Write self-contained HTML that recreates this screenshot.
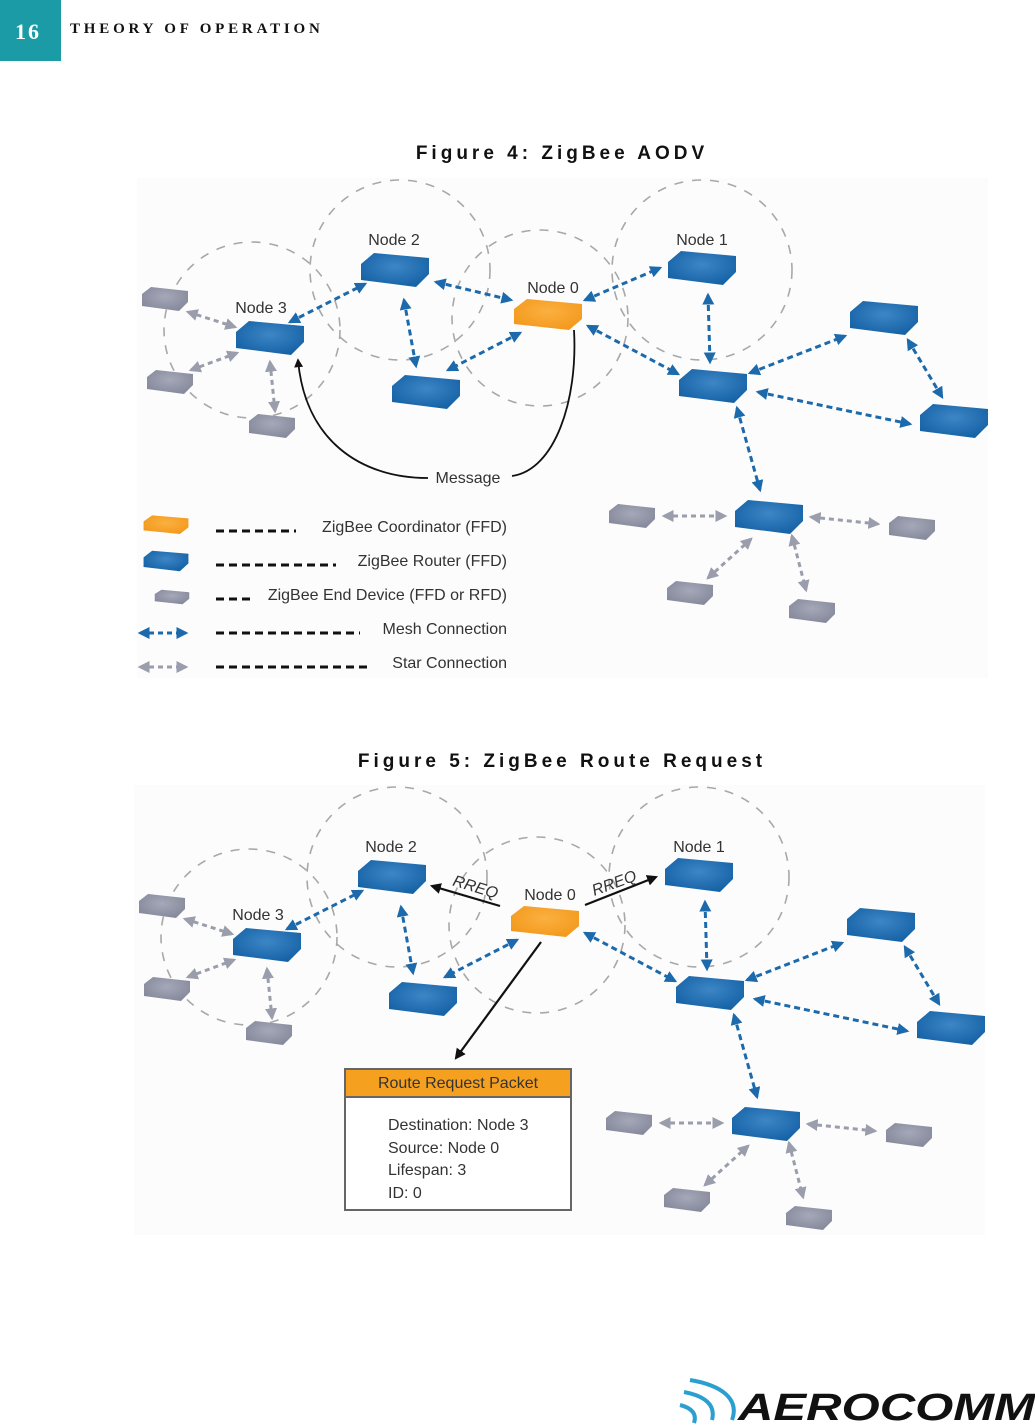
<!DOCTYPE html>
<html><head><meta charset="utf-8"><style>
html,body{margin:0;padding:0;background:#fff;}
svg{display:block;}
</style></head><body>
<svg width="1035" height="1425" viewBox="0 0 1035 1425" xmlns="http://www.w3.org/2000/svg" font-family="Liberation Sans, sans-serif">
<defs>
<radialGradient id="gb" cx="50%" cy="40%" r="60%"><stop offset="0" stop-color="#3d86c6"/><stop offset="1" stop-color="#1663a6"/></radialGradient>
<radialGradient id="go" cx="50%" cy="40%" r="60%"><stop offset="0" stop-color="#fbb040"/><stop offset="1" stop-color="#f39a1e"/></radialGradient>
<radialGradient id="gg" cx="50%" cy="40%" r="60%"><stop offset="0" stop-color="#a4a8b8"/><stop offset="1" stop-color="#868a9c"/></radialGradient>
<polygon id="nb" points="-34,-6 -21,-17 34,-12 34,4 21,17 -34,10" fill="url(#gb)"/>
<polygon id="no" points="-34,-6 -21,-16 34,-11 34,4 21,15 -34,9" fill="url(#go)"/>
<polygon id="ng" points="-23,-5 -14,-12 23,-8 23,3 14,12 -23,7" fill="url(#gg)"/>
<marker id="mb" viewBox="0 0 10 10" refX="8" refY="5" markerWidth="4" markerHeight="4" orient="auto-start-reverse"><path d="M0,0 L10,5 L0,10 z" fill="#1c6aab"/></marker>
<marker id="mg" viewBox="0 0 10 10" refX="8" refY="5" markerWidth="4" markerHeight="4" orient="auto-start-reverse"><path d="M0,0 L10,5 L0,10 z" fill="#9a9dab"/></marker>
<marker id="mk" viewBox="0 0 10 10" refX="8" refY="5" markerWidth="5" markerHeight="5" orient="auto"><path d="M0,0 L10,5 L0,10 z" fill="#111"/></marker>
<g id="fig">
  <g fill="none" stroke="#a8a8a8" stroke-width="1.6" stroke-dasharray="9,9">
    <circle cx="252" cy="330" r="88"/>
    <circle cx="400" cy="270" r="90"/>
    <circle cx="540" cy="318" r="88"/>
    <circle cx="702" cy="270" r="90"/>
  </g>
  <g stroke="#1c6aab" stroke-width="3" stroke-dasharray="6,4" marker-start="url(#mb)" marker-end="url(#mb)">
    <line x1="290" y1="322" x2="365" y2="284"/>
    <line x1="404" y1="300" x2="416" y2="366"/>
    <line x1="520" y1="333" x2="448" y2="370"/>
    <line x1="588" y1="326" x2="678" y2="374"/>
    <line x1="708" y1="295" x2="710" y2="362"/>
    <line x1="750" y1="373" x2="845" y2="336"/>
    <line x1="908" y1="340" x2="942" y2="397"/>
    <line x1="758" y1="392" x2="910" y2="424"/>
    <line x1="737" y1="408" x2="760" y2="490"/>
  </g>
  <g stroke="#9a9dab" stroke-width="3" stroke-dasharray="5,4" marker-start="url(#mg)" marker-end="url(#mg)">
    <line x1="188" y1="312" x2="235" y2="327"/>
    <line x1="191" y1="370" x2="237" y2="353"/>
    <line x1="270" y1="362" x2="275" y2="411"/>
    <line x1="664" y1="516" x2="725" y2="516"/>
    <line x1="708" y1="578" x2="751" y2="539"/>
    <line x1="792" y1="536" x2="806" y2="590"/>
    <line x1="811" y1="517" x2="878" y2="524"/>
  </g>
  <use href="#nb" x="395" y="270"/>
  <use href="#nb" x="702" y="268"/>
  <use href="#nb" x="270" y="338"/>
  <use href="#nb" x="426" y="392"/>
  <use href="#nb" x="713" y="386"/>
  <use href="#nb" x="884" y="318"/>
  <use href="#nb" x="954" y="421"/>
  <use href="#nb" x="769" y="517"/>
  <use href="#no" x="548" y="315"/>
  <use href="#ng" x="165" y="299"/>
  <use href="#ng" x="170" y="382"/>
  <use href="#ng" x="272" y="426"/>
  <use href="#ng" x="632" y="516"/>
  <use href="#ng" x="690" y="593"/>
  <use href="#ng" x="812" y="611"/>
  <use href="#ng" x="912" y="528"/>
</g>
</defs>

<!-- header -->
<rect x="0" y="0" width="61" height="61" fill="#1a9ba6"/>
<text x="28" y="39" text-anchor="middle" font-family="Liberation Serif, serif" font-weight="bold" font-size="22" fill="#fff" letter-spacing="2">16</text>
<text x="70" y="33" font-family="Liberation Serif, serif" font-weight="bold" font-size="15" fill="#111" letter-spacing="3.8">THEORY OF OPERATION</text>

<text x="562" y="159" text-anchor="middle" font-weight="bold" font-size="19" letter-spacing="4" fill="#111">Figure 4: ZigBee AODV</text>
<text x="562" y="767" text-anchor="middle" font-weight="bold" font-size="19" letter-spacing="4" fill="#111">Figure 5: ZigBee Route Request</text>

<!-- Figure 4 -->
<rect x="137" y="178" width="851" height="500" fill="#fcfcfc"/>
<use href="#fig"/>
<g stroke="#1c6aab" stroke-width="3" stroke-dasharray="6,4" marker-start="url(#mb)" marker-end="url(#mb)">
  <line x1="436" y1="282" x2="511" y2="300"/>
  <line x1="585" y1="300" x2="660" y2="268"/>
</g>
<g fill="none" stroke="#111" stroke-width="1.8">
  <path d="M428,478 C360,478 305,440 298,360" marker-end="url(#mk)"/>
  <path d="M512,476 C555,470 578,400 574,330"/>
</g>
<g font-size="16" fill="#333">
  <text x="394" y="245" text-anchor="middle">Node 2</text>
  <text x="553" y="293" text-anchor="middle">Node 0</text>
  <text x="702" y="245" text-anchor="middle">Node 1</text>
  <text x="261" y="313" text-anchor="middle">Node 3</text>
  <text x="468" y="483" text-anchor="middle">Message</text>
</g>
<!-- legend -->
<use href="#no" transform="translate(166,525) scale(0.66,0.6)"/>
<use href="#nb" transform="translate(166,561) scale(0.66,0.6)"/>
<use href="#ng" transform="translate(172,597) scale(0.75,0.6)"/>
<g stroke="#1c6aab" stroke-width="3" stroke-dasharray="5,4" marker-start="url(#mb)" marker-end="url(#mb)"><line x1="140" y1="633" x2="186" y2="633"/></g>
<g stroke="#9a9dab" stroke-width="3" stroke-dasharray="5,4" marker-start="url(#mg)" marker-end="url(#mg)"><line x1="140" y1="667" x2="186" y2="667"/></g>
<g stroke="#111" stroke-width="3" stroke-dasharray="8,5">
  <line x1="216" y1="531" x2="296" y2="531"/>
  <line x1="216" y1="565" x2="336" y2="565"/>
  <line x1="216" y1="599" x2="250" y2="599"/>
  <line x1="216" y1="633" x2="360" y2="633"/>
  <line x1="216" y1="667" x2="372" y2="667"/>
</g>
<g font-size="16" fill="#333" text-anchor="end">
  <text x="507" y="532">ZigBee Coordinator (FFD)</text>
  <text x="507" y="566">ZigBee Router (FFD)</text>
  <text x="507" y="600">ZigBee End Device (FFD or RFD)</text>
  <text x="507" y="634">Mesh Connection</text>
  <text x="507" y="668">Star Connection</text>
</g>

<!-- Figure 5 -->
<rect x="134" y="785" width="851" height="450" fill="#fcfcfc"/>
<use href="#fig" x="-3" y="607"/>
<g stroke="#111" stroke-width="2.2">
  <line x1="500" y1="906" x2="432" y2="886" marker-end="url(#mk)"/>
  <line x1="585" y1="905" x2="656" y2="877" marker-end="url(#mk)"/>
  <line x1="541" y1="942" x2="456" y2="1058" marker-end="url(#mk)"/>
</g>
<g font-size="16" fill="#333">
  <text x="391" y="852" text-anchor="middle">Node 2</text>
  <text x="550" y="900" text-anchor="middle">Node 0</text>
  <text x="699" y="852" text-anchor="middle">Node 1</text>
  <text x="258" y="920" text-anchor="middle">Node 3</text>
  <text transform="translate(474,892) rotate(17)" text-anchor="middle" font-style="italic">RREQ</text>
  <text transform="translate(616,888) rotate(-20)" text-anchor="middle" font-style="italic">RREQ</text>
</g>
<rect x="345" y="1069" width="226" height="141" fill="#fff" stroke="#666" stroke-width="2"/>
<rect x="345" y="1069" width="226" height="28" fill="#f6a01f" stroke="#666" stroke-width="2"/>
<g font-size="16" fill="#333">
  <text x="458" y="1088" text-anchor="middle">Route Request Packet</text>
  <text x="388" y="1130">Destination: Node 3</text>
  <text x="388" y="1153">Source: Node 0</text>
  <text x="388" y="1175">Lifespan: 3</text>
  <text x="388" y="1198">ID: 0</text>
</g>

<!-- logo -->
<g fill="none" stroke="#2a9fd0" stroke-width="4">
  <path d="M690,1380 C720,1385 740,1398 732,1420"/>
  <path d="M684,1392 C705,1396 716,1405 712,1420"/>
  <path d="M680,1405 C692,1408 697,1414 694,1423"/>
</g>
<text x="738" y="1420" font-family="Liberation Sans, sans-serif" font-weight="bold" font-style="italic" font-size="38" fill="#111" textLength="297" lengthAdjust="spacingAndGlyphs">AEROCOMM</text>
</svg>
</body></html>
